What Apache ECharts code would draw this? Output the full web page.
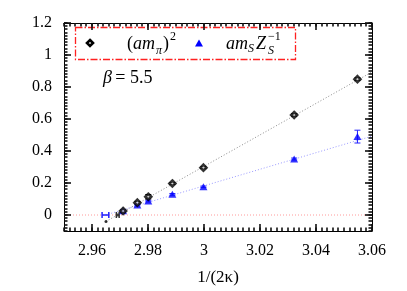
<!DOCTYPE html>
<html><head><meta charset="utf-8">
<script src="https://cdn.jsdelivr.net/npm/echarts@6/dist/echarts.min.js"></script>
<style>html,body{margin:0;padding:0;background:#fff}#c{width:407px;height:291px}</style>
</head><body><div id="c"></div>
<script>
const xTicks = [2.96, 2.98, 3.00, 3.02, 3.04, 3.06];
const yTicks = [0, 0.2, 0.4, 0.6, 0.8, 1.0, 1.2];
const xVals = [3.0548, 3.0322, 2.9998, 2.9887, 2.9801, 2.9762, 2.9711];
const mpi2 = [0.849, 0.625, 0.296, 0.197, 0.114, 0.077, 0.025];
const mpi2Err = [0.008, 0.008, 0.006, 0.006, 0.014, 0.008, 0.006];
const mS = [0.49, 0.35, 0.176, 0.129, 0.087, 0.062, 0.027];
const mSErr = [0.04, 0.006, 0.005, 0.005, 0.005, 0.005, 0.005];
const blueCross = [[2.9648, 0]];
const blueCrossXErr = [0.0012];
const blackCross = [[2.9692, 0]];
const blackCrossXErr = [0.0005];
const blackChiral = [[2.9650, -0.04]];
const fitBlack = [[2.9650, -0.04], [3.06, 0.894]];
const fitBlue = [[2.9648, 0.0], [3.06, 0.493]];
const zeroLine = [[2.95, 0], [3.06, 0]];

const X_MIN = 2.95, X_MAX = 3.06, Y_MIN = -0.1, Y_MAX = 1.2;
const X_MINOR_STEP = 0.002, Y_MINOR_STEP = 0.02;

const FONT = 'Liberation Serif';
const fmt = v => String(+(+v).toFixed(2));
const chart = echarts.init(document.getElementById('c'));

const xMinor = [], yMinor = [];
for (let k = 0; X_MIN + k * X_MINOR_STEP <= X_MAX + 1e-9; k++) xMinor.push(+(X_MIN + k * X_MINOR_STEP).toFixed(4));
for (let k = 0; Y_MIN + k * Y_MINOR_STEP <= Y_MAX + 1e-9; k++) yMinor.push(+(Y_MIN + k * Y_MINOR_STEP).toFixed(4));

// frame tick marks: [value, length, side]  side 0=bottom,1=top,2=left,3=right
const tickData = [];
xTicks.forEach(v => { tickData.push([v, 7, 0]); tickData.push([v, 7, 1]); });
xMinor.forEach(v => { tickData.push([v, 3.5, 0]); tickData.push([v, 3.5, 1]); });
yTicks.forEach(v => { tickData.push([v, 7, 2]); tickData.push([v, 7, 3]); });
yMinor.forEach(v => { tickData.push([v, 3.5, 2]); tickData.push([v, 3.5, 3]); });

const tickSeries = {type:'custom', xAxisIndex:0, yAxisIndex:0, z:30, zlevel:1, silent:true,
  encode:{x:-1, y:-1},
  data: tickData,
  renderItem:(p, api)=>{
    const v=api.value(0), L=api.value(1), side=api.value(2);
    let x1,y1,x2,y2;
    if (side < 2) {
      const c = api.coord([v, side===0 ? Y_MIN : Y_MAX]);
      const x = Math.round(c[0]);
      x1 = x; x2 = x; y1 = c[1]; y2 = side===0 ? c[1]-L : c[1]+L;
    } else {
      const c = api.coord([side===2 ? X_MIN : X_MAX, v]);
      const y = Math.round(c[1]);
      y1 = y; y2 = y; x1 = c[0]; x2 = side===2 ? c[0]+L : c[0]-L;
    }
    return {type:'line', shape:{x1,y1,x2,y2}, style:{stroke:'#111111', lineWidth:1.6}};
  }};

function errY(xs, ys, es, color) {
  return {type:'custom', xAxisIndex:0, yAxisIndex:0, z:3,
    data: xs.map((x,i)=>[x, ys[i], es[i]]),
    renderItem:(p, api)=>{
      const x=api.value(0), y=api.value(1), e=api.value(2);
      const a=api.coord([x,y-e]), b=api.coord([x,y+e]);
      const st={stroke:color, lineWidth:1};
      return {type:'group', children:[
        {type:'line', shape:{x1:a[0],y1:a[1],x2:b[0],y2:b[1]}, style:st},
        {type:'line', shape:{x1:a[0]-3,y1:a[1],x2:a[0]+3,y2:a[1]}, style:st},
        {type:'line', shape:{x1:b[0]-3,y1:b[1],x2:b[0]+3,y2:b[1]}, style:st}]};
    }};
}
function errX(pts, es, color) {
  return {type:'custom', xAxisIndex:0, yAxisIndex:0, z:3,
    data: pts.map((p,i)=>[p[0], p[1], es[i]]),
    renderItem:(p, api)=>{
      const x=api.value(0), y=api.value(1), e=api.value(2);
      const a=api.coord([x-e,y]), b=api.coord([x+e,y]);
      const st={stroke:color, lineWidth:1.5};
      return {type:'group', children:[
        {type:'line', shape:{x1:a[0],y1:a[1],x2:b[0],y2:b[1]}, style:st},
        {type:'line', shape:{x1:a[0],y1:a[1]-3,x2:a[0],y2:a[1]+3}, style:st},
        {type:'line', shape:{x1:b[0],y1:b[1]-3,x2:b[0],y2:b[1]+3}, style:st}]};
    }};
}

function frameAxisX(pos, labels) {
  return {type:'value', position:pos, offset:0, min:X_MIN, max:X_MAX,
    axisLine:{show:true, onZero:false, lineStyle:{color:'#000', width:1}},
    axisTick:{show:false},
    axisLabel:{show:labels, customValues:xTicks, formatter:fmt, margin:12, fontFamily:FONT, fontSize:16, color:'#000'},
    splitLine:{show:false}};
}
function frameAxisY(pos, labels) {
  return {type:'value', position:pos, offset:0, min:Y_MIN, max:Y_MAX,
    axisLine:{show:true, onZero:false, lineStyle:{color:'#000', width:1}},
    axisTick:{show:false},
    axisLabel:{show:labels, customValues:yTicks, formatter:fmt, margin:12, fontFamily:FONT, fontSize:16, color:'#000'},
    splitLine:{show:false}};
}
const xA = frameAxisX('bottom', true);
xA.name = '1/(2κ)';
xA.nameLocation = 'middle';
xA.nameGap = 38;
xA.nameTextStyle = {fontFamily:FONT, fontSize:17, color:'#000'};

const diamondPath = 'path://M0,-5L5,0L0,5L-5,0Z';
const it = {fontFamily:FONT, fontStyle:'italic', fill:'#000'};
const rm = {fontFamily:FONT, fill:'#000'};

chart.setOption({
  animation:false,
  backgroundColor:'#fff',
  grid:{left:64, right:35, top:23, bottom:59},
  xAxis:[xA, frameAxisX('top', false)],
  yAxis:[frameAxisY('left', true), frameAxisY('right', false)],
  series:[
    {type:'line', data:zeroLine, showSymbol:false, symbol:'none', lineStyle:{color:'#ff9a9a', width:1, type:[1,2]}, z:1},
    {type:'line', data:fitBlack, showSymbol:false, symbol:'none', lineStyle:{color:'#8c8c8c', width:1, type:[1,2]}, z:1},
    {type:'line', data:fitBlue, showSymbol:false, symbol:'none', lineStyle:{color:'#9a9aff', width:1, type:[1,2]}, z:1},
    errY(xVals, mpi2, mpi2Err, '#000'),
    errY(xVals, mS, mSErr, '#2020ff'),
    errX(blueCross, blueCrossXErr, '#2020ff'),
    errX(blackCross, blackCrossXErr, '#333'),
    {type:'scatter', data:xVals.map((x,i)=>[x, mpi2[i]]), symbol:diamondPath, symbolSize:6,
      itemStyle:{color:'#fff', borderColor:'#000', borderWidth:2.6}, z:5},
    {type:'scatter', data:xVals.map((x,i)=>[x, mS[i]]), symbol:'triangle', symbolSize:[8,7],
      itemStyle:{color:'#0000ff'}, z:4},
    {type:'scatter', data:blackChiral, symbol:'circle', symbolSize:3, itemStyle:{color:'#000'}, z:5},
    {type:'scatter', data:blackCross, symbol:'rect', symbolSize:3, itemStyle:{color:'#333'}, z:5},
    tickSeries
  ],
  graphic:[
    {type:'rect', z:10, shape:{x:75.5, y:27.5, width:220, height:32},
      style:{fill:'#ffffff', stroke:'#ff2020', lineWidth:1.3, lineDash:[7,2,1.5,2]}},
    {type:'polygon', z:11, shape:{points:[[90,40],[93,43],[90,46],[87,43]]},
      style:{fill:'#fff', stroke:'#000', lineWidth:2.6}},
    {type:'polygon', z:11, shape:{points:[[199,39.5],[203,46.5],[195,46.5]]}, style:{fill:'#0000ff'}},
    {type:'text', z:11, x:127, y:44, style:{
      text:'{r|(}{i|am}{s|π}{r|)}{p|2}', verticalAlign:'middle',
      rich:{
        r:Object.assign({fontSize:18, lineHeight:26, verticalAlign:'middle'}, rm),
        i:Object.assign({fontSize:18, lineHeight:26, verticalAlign:'middle', padding:[0,1,0,0]}, it),
        s:Object.assign({fontSize:12, lineHeight:26, verticalAlign:'bottom', padding:[0,1,0,0]}, it),
        p:Object.assign({fontSize:12, lineHeight:26, verticalAlign:'top', padding:[0,0,0,1]}, rm)
      }}},
    {type:'text', z:11, x:226, y:44, style:Object.assign({text:'am', fontSize:18, verticalAlign:'middle'}, it)},
    {type:'text', z:11, x:248, y:49, style:Object.assign({text:'S', fontSize:12, verticalAlign:'middle'}, it)},
    {type:'text', z:11, x:256, y:44, style:Object.assign({text:'Z', fontSize:18, verticalAlign:'middle'}, it)},
    {type:'text', z:11, x:268, y:37, style:Object.assign({text:'−1', fontSize:12, verticalAlign:'middle'}, rm)},
    {type:'text', z:11, x:268, y:51, style:Object.assign({text:'S', fontSize:12, verticalAlign:'middle'}, it)},
    {type:'text', z:11, x:103, y:78, style:{
      text:'{i|β} {r|= 5.5}', verticalAlign:'middle',
      rich:{
        i:Object.assign({fontSize:18}, it),
        r:Object.assign({fontSize:18}, rm)
      }}}
  ]
});
</script></body></html>
